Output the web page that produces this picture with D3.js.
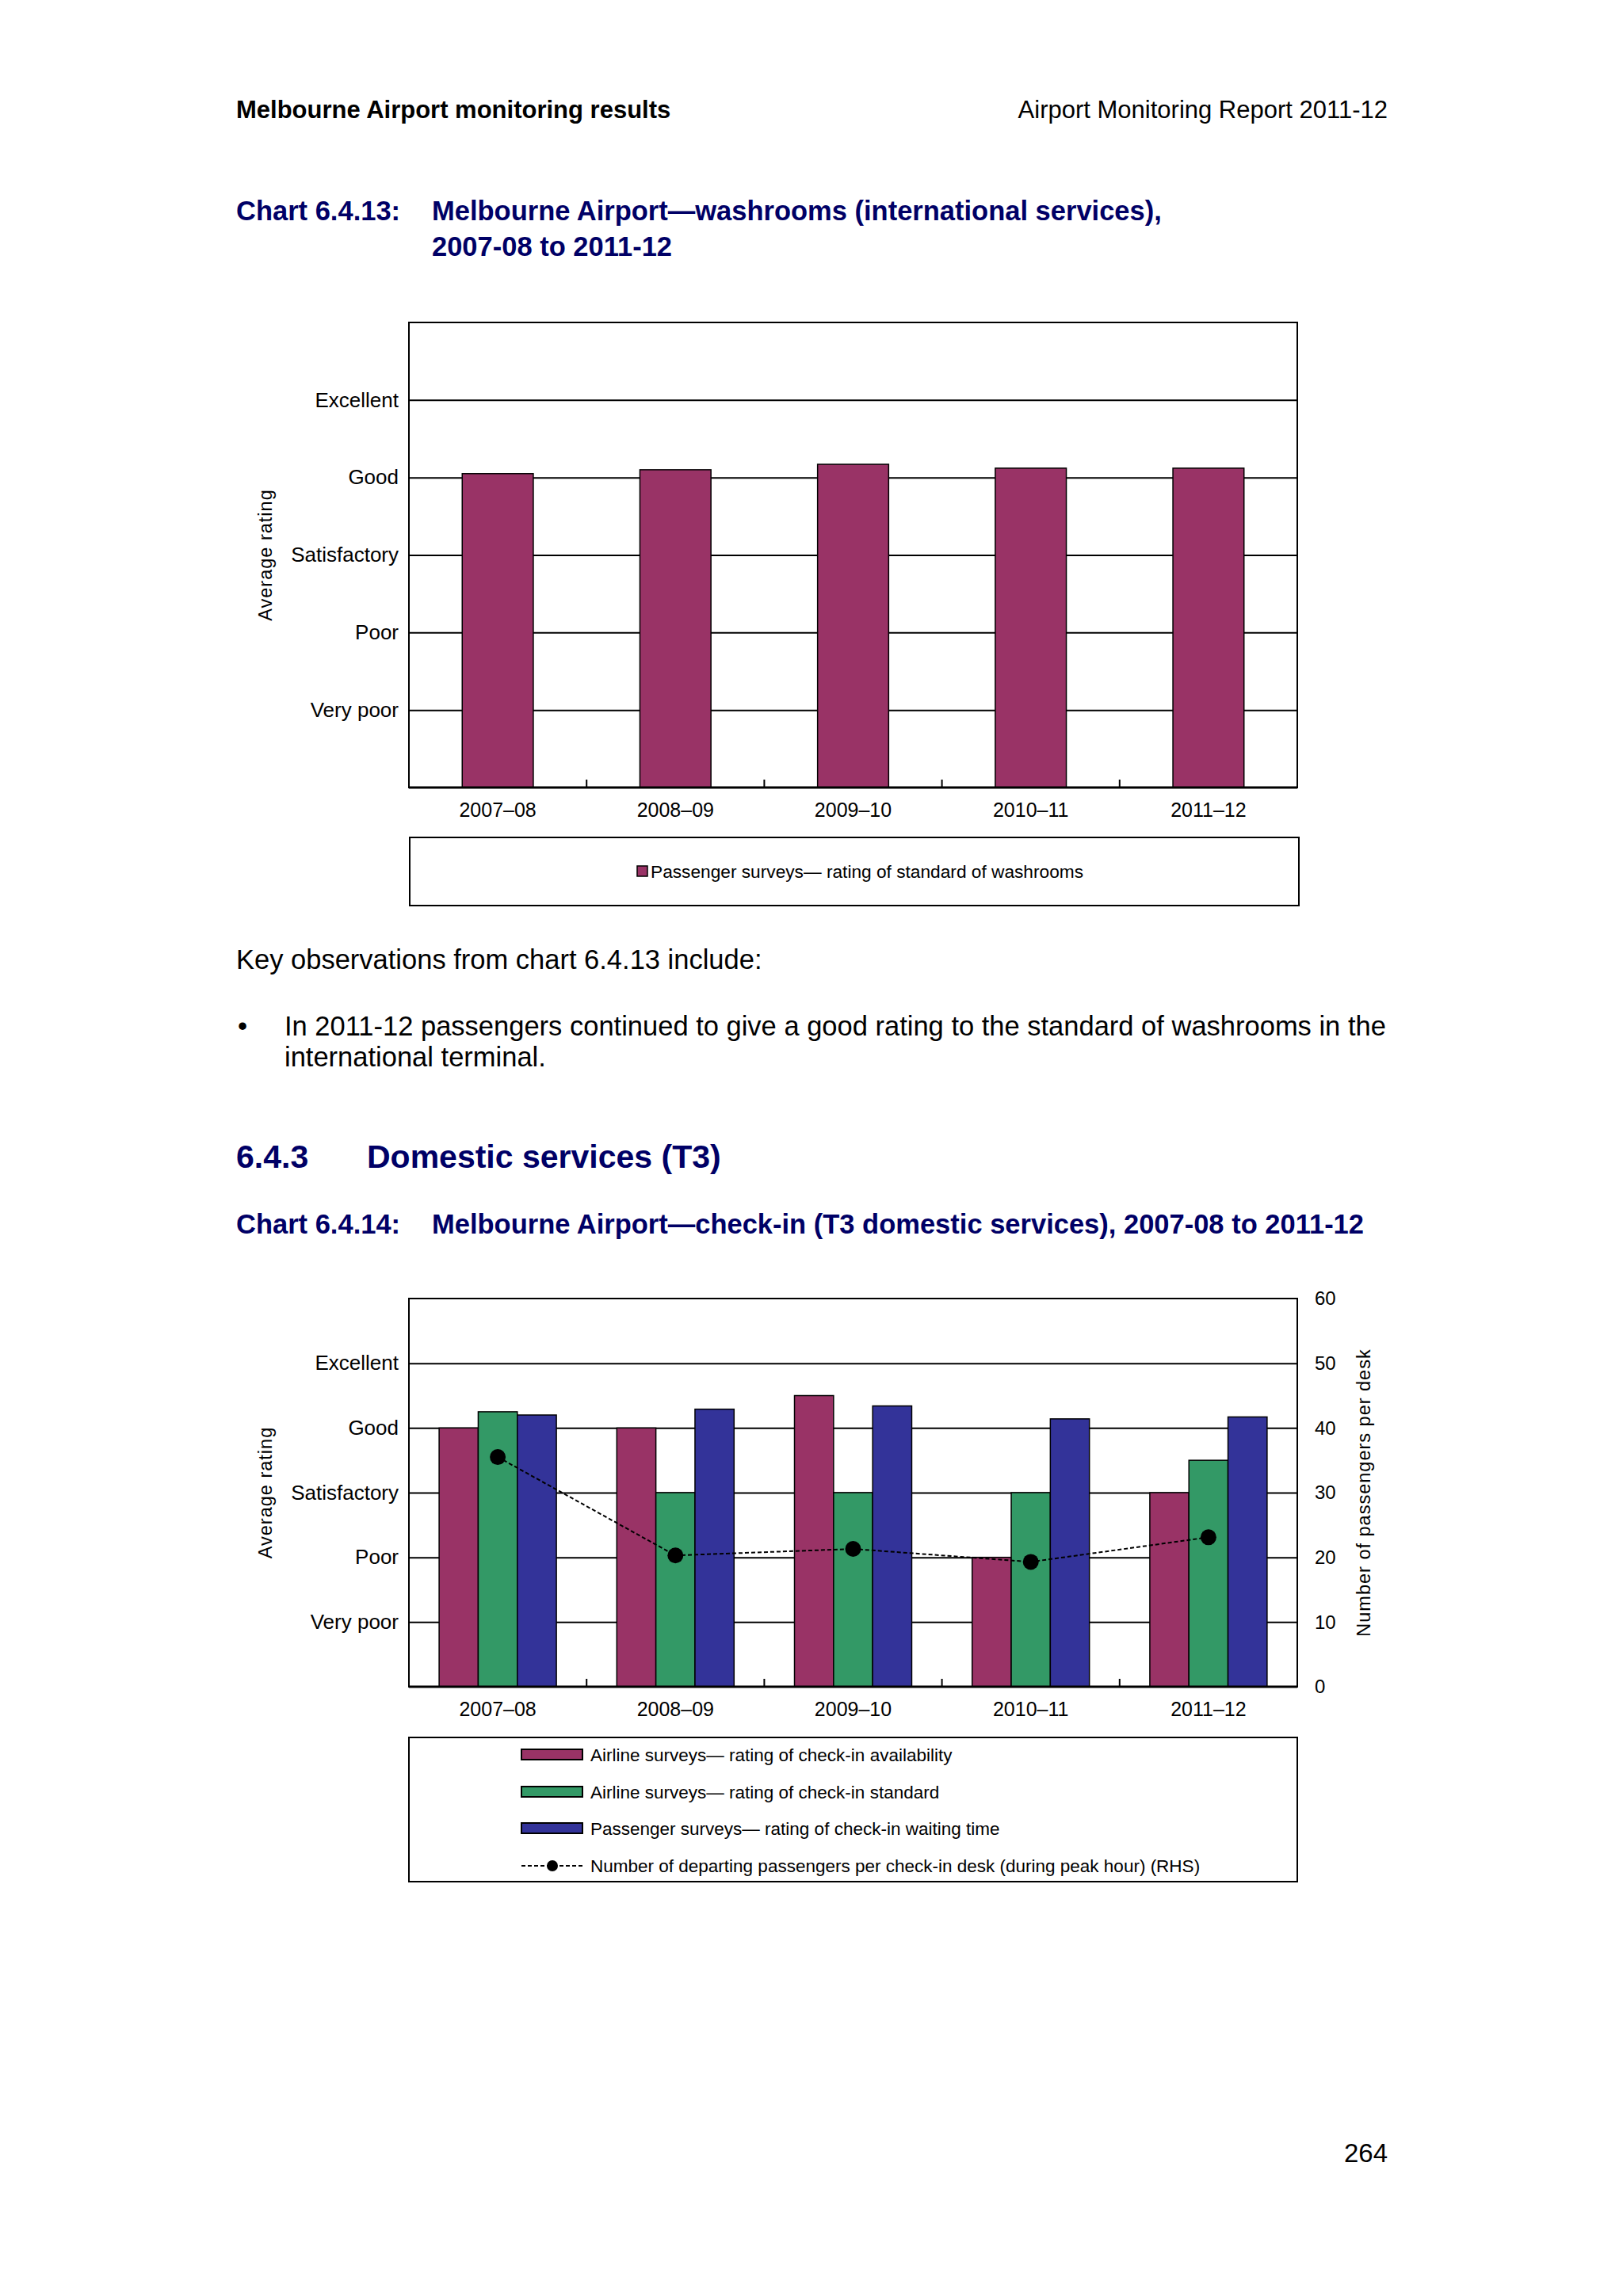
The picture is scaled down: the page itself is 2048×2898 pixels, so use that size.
<!DOCTYPE html>
<html>
<head>
<meta charset="utf-8">
<script src="https://cdn.jsdelivr.net/npm/d3@7"></script>
<style>
  body { margin: 0; background: #fff; }
  svg { display: block; font-family: "Liberation Sans", Arial, sans-serif; }
  .navy { fill: #000066; font-weight: bold; }
</style>
</head>
<body>
<div id="page"></div>
<script>
// data
var years = ["2007–08", "2008–09", "2009–10", "2010–11", "2011–12"];
var ratingLabels = ["Very poor", "Poor", "Satisfactory", "Good", "Excellent"];
var ratingTicks = [1, 2, 3, 4, 5];
var rhsTicks = [0, 10, 20, 30, 40, 50, 60];

// chart 6.4.13
var washrooms = [4.05, 4.10, 4.17, 4.12, 4.12];

// chart 6.4.14
var checkinAvailability = [4.0, 4.0, 4.5, 2.0, 3.0];
var checkinStandard = [4.25, 3.0, 3.0, 3.0, 3.5];
var checkinWaiting = [4.2, 4.29, 4.34, 4.14, 4.17];
var paxPerDesk = [35.5, 20.3, 21.3, 19.3, 23.1];

var seriesNames = [
  "Airline surveys— rating of check-in availability",
  "Airline surveys— rating of check-in standard",
  "Passenger surveys— rating of check-in waiting time"
];
var seriesColors = ["#993366", "#339966", "#333399"];
var lineName = "Number of departing passengers per check-in desk (during peak hour) (RHS)";

var svgWidth = 2048;
var svgHeight = 2898;

var svg = d3.select("#page")
  .append("svg")
  .attr("width", svgWidth)
  .attr("height", svgHeight);

svg.append("rect").attr("width", svgWidth).attr("height", svgHeight).attr("fill", "#fff");

// ---------- page text ----------
svg.append("text").attr("x", 298).attr("y", 149)
  .style("font-size", "31px").style("font-weight", "bold")
  .text("Melbourne Airport monitoring results");
svg.append("text").attr("x", 1751).attr("y", 149)
  .attr("text-anchor", "end").style("font-size", "31px")
  .text("Airport Monitoring Report 2011-12");

svg.append("text").attr("class", "navy").attr("x", 298).attr("y", 278)
  .style("font-size", "34.5px").text("Chart 6.4.13:");
svg.append("text").attr("class", "navy").attr("x", 545).attr("y", 278)
  .style("font-size", "34.5px").text("Melbourne Airport—washrooms (international services),");
svg.append("text").attr("class", "navy").attr("x", 545).attr("y", 323)
  .style("font-size", "34.5px").text("2007-08 to 2011-12");

svg.append("text").attr("x", 298).attr("y", 1223)
  .style("font-size", "34.5px").text("Key observations from chart 6.4.13 include:");
svg.append("text").attr("x", 300).attr("y", 1307)
  .style("font-size", "34.5px").text("•");
svg.append("text").attr("x", 359).attr("y", 1307)
  .style("font-size", "34.5px")
  .text("In 2011-12 passengers continued to give a good rating to the standard of washrooms in the");
svg.append("text").attr("x", 359).attr("y", 1346)
  .style("font-size", "34.5px").text("international terminal.");

svg.append("text").attr("class", "navy").attr("x", 298).attr("y", 1474)
  .style("font-size", "41px").text("6.4.3");
svg.append("text").attr("class", "navy").attr("x", 463).attr("y", 1474)
  .style("font-size", "41px").text("Domestic services (T3)");

svg.append("text").attr("class", "navy").attr("x", 298).attr("y", 1557)
  .style("font-size", "34.5px").text("Chart 6.4.14:");
svg.append("text").attr("class", "navy").attr("x", 545).attr("y", 1557)
  .style("font-size", "34.5px").text("Melbourne Airport—check-in (T3 domestic services), 2007-08 to 2011-12");

svg.append("text").attr("x", 1751).attr("y", 2729)
  .attr("text-anchor", "end").style("font-size", "33px").text("264");

// ---------- shared axis set-up for the two rating charts ----------
var left = 516;
var right = 1637;

function ratingFrame(top, bottom) {
  var x = d3.scaleBand().domain(years).range([left, right]);
  var y = d3.scaleLinear().domain([0, 6]).range([bottom, top]);

  // gridlines + rating labels
  var yAxis = svg.append("g")
    .attr("transform", `translate(${left}, 0)`)
    .call(d3.axisLeft(y)
      .tickValues(ratingTicks)
      .tickFormat((d, i) => ratingLabels[i])
      .tickSizeInner(-(right - left))
      .tickSizeOuter(0)
      .tickPadding(13));
  yAxis.select(".domain").remove();
  yAxis.selectAll(".tick line").attr("stroke", "#000").attr("stroke-width", 2);
  yAxis.selectAll("text")
    .style("font-size", "26px")
    .style("font-family", "'Liberation Sans', Arial, sans-serif")
    .attr("fill", "#000");

  // category labels
  var xAxis = svg.append("g")
    .attr("transform", `translate(0, ${bottom})`)
    .call(d3.axisBottom(x).tickSize(0).tickPadding(19));
  xAxis.select(".domain").remove();
  xAxis.selectAll("text")
    .style("font-size", "25px")
    .style("font-family", "'Liberation Sans', Arial, sans-serif")
    .attr("fill", "#000");

  // axis title
  svg.append("text")
    .attr("transform", `translate(343, ${(top + bottom) / 2}) rotate(-90)`)
    .attr("text-anchor", "middle")
    .style("font-size", "23.5px")
    .style("letter-spacing", "1px")
    .text("Average rating");

  return { x: x, y: y, top: top, bottom: bottom };
}

function frameBorder(f) {
  // small category divider ticks on the bottom axis
  svg.append("g").selectAll("line")
    .data(years.slice(1))
    .enter()
    .append("line")
    .attr("x1", d => f.x(d))
    .attr("x2", d => f.x(d))
    .attr("y1", f.bottom)
    .attr("y2", f.bottom - 10)
    .attr("stroke", "#000")
    .attr("stroke-width", 2);

  svg.append("rect")
    .attr("x", left).attr("y", f.top)
    .attr("width", right - left).attr("height", f.bottom - f.top)
    .attr("fill", "none").attr("stroke", "#000").attr("stroke-width", 2);
  svg.append("line")
    .attr("x1", left).attr("x2", right)
    .attr("y1", f.bottom).attr("y2", f.bottom)
    .attr("stroke", "#000").attr("stroke-width", 3);
}

// ---------- chart 6.4.13 ----------
var c1 = ratingFrame(407, 994);
var bw1 = c1.x.bandwidth() * 0.4;

svg.append("g").selectAll("rect")
  .data(washrooms)
  .enter()
  .append("rect")
  .attr("x", (d, i) => c1.x(years[i]) + (c1.x.bandwidth() - bw1) / 2)
  .attr("y", d => c1.y(d))
  .attr("width", bw1)
  .attr("height", d => c1.y(0) - c1.y(d))
  .attr("fill", "#993366")
  .attr("stroke", "#000")
  .attr("stroke-width", 1.5);

frameBorder(c1);

// legend 1
svg.append("rect")
  .attr("x", 517).attr("y", 1057).attr("width", 1122).attr("height", 86)
  .attr("fill", "none").attr("stroke", "#000").attr("stroke-width", 2);
svg.append("rect")
  .attr("x", 804).attr("y", 1093).attr("width", 13).attr("height", 13)
  .attr("fill", "#993366").attr("stroke", "#000").attr("stroke-width", 1.5);
svg.append("text")
  .attr("x", 821).attr("y", 1100).attr("dy", "0.35em")
  .style("font-size", "22.7px")
  .text("Passenger surveys— rating of standard of washrooms");

// ---------- chart 6.4.14 ----------
var c2 = ratingFrame(1639, 2129);
var y2 = d3.scaleLinear().domain([0, 60]).range([c2.bottom, c2.top]);

var groupWidth = c2.x.bandwidth() * 0.66;
var xSub = d3.scaleBand()
  .domain(d3.range(seriesNames.length))
  .range([0, groupWidth]);

var seriesValues = [checkinAvailability, checkinStandard, checkinWaiting];

var rows = years.map(function(yr, i) {
  return seriesValues.map((s, k) => ({ year: yr, k: k, value: s[i] }));
});

svg.append("g").selectAll("g")
  .data(rows)
  .enter()
  .append("g")
  .attr("transform", d => `translate(${c2.x(d[0].year) + (c2.x.bandwidth() - groupWidth) / 2}, 0)`)
  .selectAll("rect")
  .data(d => d)
  .enter()
  .append("rect")
  .attr("x", d => xSub(d.k))
  .attr("y", d => c2.y(d.value))
  .attr("width", xSub.bandwidth())
  .attr("height", d => c2.y(0) - c2.y(d.value))
  .attr("fill", d => seriesColors[d.k])
  .attr("stroke", "#000")
  .attr("stroke-width", 1.5);

frameBorder(c2);

// right hand axis
var rAxis = svg.append("g")
  .attr("transform", `translate(${right}, 0)`)
  .call(d3.axisRight(y2).tickValues(rhsTicks).tickSize(0).tickPadding(22));
rAxis.select(".domain").remove();
rAxis.selectAll("text")
  .style("font-size", "24px")
  .style("font-family", "'Liberation Sans', Arial, sans-serif")
  .attr("fill", "#000");

svg.append("text")
  .attr("transform", `translate(1729, ${(c2.top + c2.bottom) / 2}) rotate(-90)`)
  .attr("text-anchor", "middle")
  .style("font-size", "23.5px")
  .style("letter-spacing", "1px")
  .text("Number of passengers per desk");

// dashed line with markers (RHS)
var paxLine = d3.line()
  .x((d, i) => c2.x(years[i]) + c2.x.bandwidth() / 2)
  .y(d => y2(d));

svg.append("path")
  .datum(paxPerDesk)
  .attr("d", paxLine)
  .attr("fill", "none")
  .attr("stroke", "#000")
  .attr("stroke-width", 2)
  .attr("stroke-dasharray", "5,3");

svg.append("g").selectAll("circle")
  .data(paxPerDesk)
  .enter()
  .append("circle")
  .attr("cx", (d, i) => c2.x(years[i]) + c2.x.bandwidth() / 2)
  .attr("cy", d => y2(d))
  .attr("r", 10)
  .attr("fill", "#000");

// legend 2
svg.append("rect")
  .attr("x", 516).attr("y", 2193).attr("width", 1121).attr("height", 182)
  .attr("fill", "none").attr("stroke", "#000").attr("stroke-width", 2);

var legendY = [2215, 2262, 2308, 2355];

var legendItems = svg.append("g").selectAll("g")
  .data(seriesNames)
  .enter()
  .append("g")
  .attr("transform", (d, i) => `translate(0, ${legendY[i]})`);

legendItems.append("rect")
  .attr("x", 658).attr("y", -7).attr("width", 77).attr("height", 13)
  .attr("fill", (d, i) => seriesColors[i])
  .attr("stroke", "#000").attr("stroke-width", 2);

legendItems.append("text")
  .attr("x", 745).attr("dy", "0.35em")
  .style("font-size", "22.5px")
  .text(d => d);

var lineItem = svg.append("g").attr("transform", `translate(0, ${legendY[3]})`);
lineItem.append("line")
  .attr("x1", 658).attr("x2", 735)
  .attr("stroke", "#000").attr("stroke-width", 2)
  .attr("stroke-dasharray", "5,3");
lineItem.append("circle").attr("cx", 697).attr("r", 7).attr("fill", "#000");
lineItem.append("text")
  .attr("x", 745).attr("dy", "0.35em")
  .style("font-size", "22.5px")
  .text(lineName);
</script>
</body>
</html>
